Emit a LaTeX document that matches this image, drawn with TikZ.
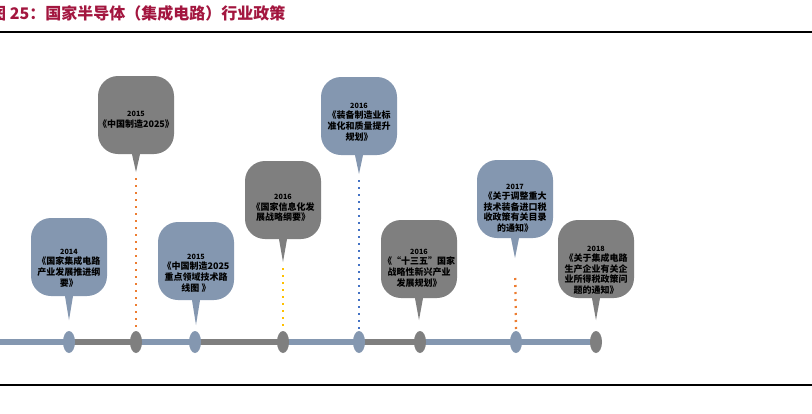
\documentclass[tikz,border=0pt]{standalone}
\usepackage{fontspec}
\newfontfamily\cjk{Noto Sans CJK SC}
\usetikzlibrary{shapes.geometric,positioning}
\definecolor{policyblue}{HTML}{8497B0}
\definecolor{policygray}{HTML}{7F7F7F}
\definecolor{titlered}{HTML}{A3163F}
\definecolor{leadorange}{HTML}{ED7D31}
\definecolor{leadyellow}{HTML}{FFC000}
\definecolor{leadblue}{HTML}{4472C4}

\begin{document}
\begin{tikzpicture}[x=1pt,y=-1pt,
    bubble/.style={rounded corners=20pt, minimum width=76pt, minimum height=78pt, inner sep=0pt},
    bubtext/.style={align=center, inner sep=0pt, text=black, font=\cjk\bfseries\fontsize{9}{10.6}\selectfont},
    stop/.style={ellipse, minimum width=12pt, minimum height=22pt, inner sep=0pt},
    lead/.style={line width=2.3pt, dash pattern=on 2pt off 5pt}]
    \newcommand{\yr}[1]{{\fontsize{7.2}{8}\selectfont #1}}

    % Canvas
    \useasboundingbox (0,0) rectangle (812,413);
    \fill[white] (0,0) rectangle (812,413);

    % Title and rules
    \node[anchor=west, inner sep=0pt, text=titlered, font=\cjk\bfseries\fontsize{16}{18}\selectfont] (title) at (-10,13) {图 25：国家半导体（集成电路）行业政策};
    \draw[line width=1.2pt] (0,32) -- (812,32);
    \draw[line width=1.6pt] (0,385) -- (812,385);

    % Timeline points
    \foreach \i/\x in {0/0, 1/69, 2/136, 3/195, 4/283, 5/359, 6/420, 7/516, 8/596} {
        \coordinate (p\i) at (\x,342);
    }

    % Timeline segments
    \foreach \a/\b/\c/\w in {0/1/policyblue/5.5, 1/2/policygray/6.5, 2/3/policyblue/5.5, 3/4/policygray/6.5,
                              4/5/policyblue/5.5, 5/6/policygray/6.5, 6/7/policyblue/5.5, 7/8/policyblue/5.5} {
        \draw[line width=\w pt, \c] (p\a) -- (p\b);
    }

    % Timeline dots
    \foreach \i/\c in {1/policyblue, 2/policygray, 3/policyblue, 4/policygray, 5/policyblue, 6/policygray, 7/policyblue, 8/policygray} {
        \node[stop, fill=\c] (d\i) at (p\i) {};
    }

    % Bubbles
    \node[bubble, fill=policyblue] (b1) at (69,257) {};
    \node[bubble, fill=policygray] (b2) at (136,115) {};
    \node[bubble, fill=policyblue] (b3) at (196,261) {};
    \node[bubble, fill=policygray] (b4) at (283,200) {};
    \node[bubble, fill=policyblue] (b5) at (359,116) {};
    \node[bubble, fill=policygray] (b6) at (419,259) {};
    \node[bubble, fill=policyblue] (b7) at (515,199) {};
    \node[bubble, fill=policygray] (b8) at (596,259) {};

    % Tail tips
    \coordinate (k1) at (69,320);
    \coordinate (k2) at (136,172);
    \coordinate (k3) at (196,325);
    \coordinate (k4) at (283,262);
    \coordinate (k5) at (359,174);
    \coordinate (k6) at (419,320);
    \coordinate (k7) at (515,258);
    \coordinate (k8) at (596,320);

    % Tails
    \foreach \i/\c in {1/policyblue, 2/policygray, 3/policyblue, 4/policygray, 5/policyblue, 6/policygray, 7/policyblue, 8/policygray} {
        \fill[\c] ([xshift=-4pt]b\i.south) -- ([xshift=4pt]b\i.south) -- (k\i) -- cycle;
    }

    % Leaders
    \draw[lead, leadorange, shorten <=6pt] (k2) -- (d2.north);
    \draw[lead, leadyellow, shorten <=6pt] (k4) -- (d4.north);
    \draw[lead, leadblue, shorten <=6pt] (k5) -- (d5.north);
    \draw[lead, leadorange, shorten <=20pt] (k7) -- (d7.north);

    % Texts
    \node[bubtext] (t1) at (69,268) {\yr{2014}\\《国家集成电路\\产业发展推进纲\\要》};
    \node[bubtext] (t2) at (136,120) {\yr{2015}\\《中国制造2025》};
    \node[bubtext] (t3) at (196,273) {\yr{2015}\\《中国制造2025\\重点领域技术路\\线图 》};
    \node[bubtext] (t4) at (283,208) {\yr{2016}\\《国家信息化发\\展战略纲要》};
    \node[bubtext] (t5) at (359,122) {\yr{2016}\\《装备制造业标\\准化和质量提升\\规划》};
    \node[bubtext] (t6) at (419,268) {\yr{2016}\\《“十三五”国家\\战略性新兴产业\\发展规划》};
    \node[bubtext] (t7) at (515,208) {\yr{2017}\\《关于调整重大\\技术装备进口税\\收政策有关目录\\的通知》};
    \node[bubtext] (t8) at (596,270) {\yr{2018}\\《关于集成电路\\生产企业有关企\\业所得税政策问\\题的通知》};
\end{tikzpicture}
\end{document}
